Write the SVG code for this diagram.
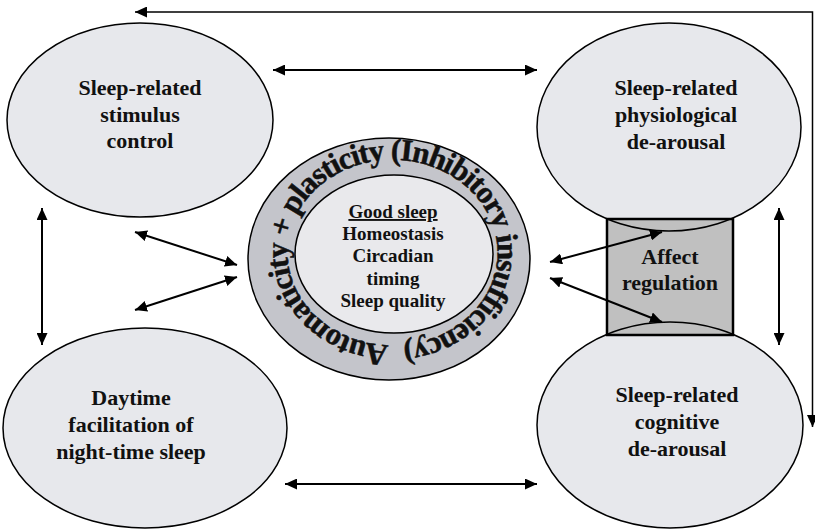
<svg xmlns="http://www.w3.org/2000/svg" width="815" height="532" viewBox="0 0 815 532">
<style>
.node{fill:#e7e8ec;stroke:#000;stroke-width:1.5}
.outline{fill:none;stroke:#000;stroke-width:1.5}
.lbl{font-family:"Liberation Serif","Times New Roman",serif;font-weight:bold;font-size:22px;text-anchor:middle;fill:#111}
.ctr{font-family:"Liberation Serif","Times New Roman",serif;font-weight:bold;font-size:19px;text-anchor:middle;fill:#111}
.ring{font-family:"Liberation Serif","Times New Roman",serif;font-weight:bold;font-size:31px;letter-spacing:-1.2px;fill:#111;stroke:#111;stroke-width:0.5}
.dbl{fill:none;stroke:#000;stroke-width:2;marker-start:url(#ah);marker-end:url(#ah)}
.thin{fill:none;stroke:#000;stroke-width:1.5;marker-start:url(#ah);marker-end:url(#ah)}
</style>
<defs>
<marker id="ah" markerUnits="userSpaceOnUse" markerWidth="12" markerHeight="11" refX="12" refY="5.5" orient="auto-start-reverse">
<path d="M0,0 L12,5.5 L0,11 z" fill="#000"/>
</marker>
<path id="ringPath" d="M392.5,345 A105,92.5 0 0 1 287.5,252.5 A105,92.5 0 0 1 392.5,160 A105,92.5 0 0 1 497.5,252.5 A105,92.5 0 0 1 392.5,345"/>
<clipPath id="boxClip"><rect x="607" y="219" width="126" height="116"/></clipPath>
</defs>

<g id="stimulus-control">
<ellipse class="node" cx="140" cy="120" rx="133" ry="97"/>
<text class="lbl" x="140" y="95">Sleep-related</text>
<text class="lbl" x="140" y="122">stimulus</text>
<text class="lbl" x="140" y="148">control</text>
</g>

<g id="physiological-dearousal">
<ellipse class="node" cx="669" cy="127" rx="132" ry="104"/>
<text class="lbl" x="676" y="95">Sleep-related</text>
<text class="lbl" x="676" y="122">physiological</text>
<text class="lbl" x="676" y="149">de-arousal</text>
</g>

<g id="daytime-facilitation">
<ellipse class="node" cx="145" cy="428" rx="142" ry="100"/>
<text class="lbl" x="131" y="405">Daytime</text>
<text class="lbl" x="131" y="432">facilitation of</text>
<text class="lbl" x="131" y="459">night-time sleep</text>
</g>

<g id="cognitive-dearousal">
<ellipse class="node" cx="670" cy="425" rx="133" ry="103"/>
<text class="lbl" x="677" y="402">Sleep-related</text>
<text class="lbl" x="677" y="429">cognitive</text>
<text class="lbl" x="677" y="456">de-arousal</text>
</g>

<g id="affect-regulation">
<rect x="607" y="219" width="126" height="116" fill="#c0c0c0" stroke="#000" stroke-width="2.5"/>
<g clip-path="url(#boxClip)">
<ellipse class="outline" cx="669" cy="127" rx="132" ry="104"/>
<ellipse class="outline" cx="670" cy="425" rx="133" ry="103"/>
</g>
<text class="lbl" x="670" y="264">Affect</text>
<text class="lbl" x="670" y="290">regulation</text>
</g>

<g id="good-sleep">
<ellipse cx="389" cy="259" rx="141" ry="121" fill="#c4c5cb" stroke="#000" stroke-width="1.5"/>
<ellipse cx="394" cy="254" rx="99" ry="79" fill="#e9e9ec" stroke="#000" stroke-width="1.5"/>
<text class="ring"><textPath href="#ringPath" startOffset="4">Automaticity + plasticity (Inhibitory insufficiency)</textPath></text>
<text class="ctr" x="393" y="218" text-decoration="underline">Good sleep</text>
<text class="ctr" x="393" y="240">Homeostasis</text>
<text class="ctr" x="393" y="262">Circadian</text>
<text class="ctr" x="393" y="285">timing</text>
<text class="ctr" x="393" y="307">Sleep quality</text>
</g>

<g id="connectors">
<line class="dbl" x1="273" y1="70" x2="537" y2="70"/>
<line class="dbl" x1="285" y1="484" x2="537" y2="484"/>
<line class="dbl" x1="42" y1="208" x2="42" y2="345"/>
<line class="dbl" x1="779" y1="208" x2="779" y2="345"/>
<line class="dbl" x1="135" y1="232" x2="237" y2="265"/>
<line class="dbl" x1="237" y1="277" x2="135" y2="310"/>
<line class="dbl" x1="550" y1="262" x2="662" y2="232"/>
<line class="dbl" x1="550" y1="278" x2="662" y2="322"/>
<path class="thin" d="M812.5,427 L812.5,12 L135,12"/>
</g>
</svg>
